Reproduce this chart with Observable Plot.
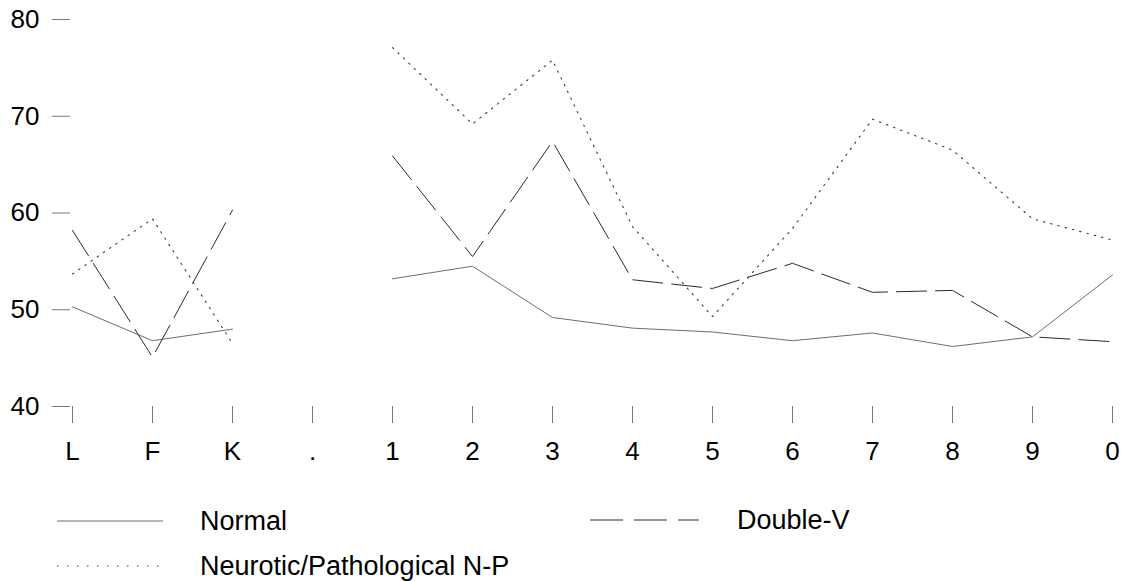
<!DOCTYPE html>
<html>
<head>
<meta charset="utf-8">
<script src="https://cdn.jsdelivr.net/npm/d3@7"></script>
<script src="https://cdn.jsdelivr.net/npm/@observablehq/plot@0.6"></script>
<style>
  body { margin: 0; background: #fff; font-family: "Liberation Sans", Arial, sans-serif; }
  #wrap { position: relative; width: 1124px; height: 581px; }
  .leg { position: absolute; font-size: 27px; color: #000; line-height: 30px; white-space: nowrap; }
  .sw { position: absolute; }
</style>
</head>
<body>
<div id="wrap"></div>
<script>
const categories = ["L", "F", "K", ".", "1", "2", "3", "4", "5", "6", "7", "8", "9", "0"];
const normal   = [50.3, 46.8, 48.0, NaN, 53.2, 54.5, 49.2, 48.1, 47.7, 46.8, 47.6, 46.2, 47.2, 53.6];
const doubleV  = [58.2, 45.1, 60.3, NaN, 65.9, 55.5, 67.4, 53.1, 52.2, 54.8, 51.8, 52.0, 47.2, 46.7];
const neurotic = [53.7, 59.4, 46.5, NaN, 77.1, 69.2, 75.8, 58.6, 49.3, 58.4, 69.7, 66.5, 59.4, 57.2];
const yTicks = [40, 50, 60, 70, 80];
const seriesNames = ["Normal", "Double-V", "Neurotic/Pathological N-P"];

const toRows = (vals) => categories.map((c, i) => ({cat: c, v: vals[i]}));

const styles = {
  "Normal": {stroke: "#6e6e6e", dash: null, legendDash: null},
  "Double-V": {stroke: "#2a2a2a", dash: "30,9", legendDash: "33,11"},
  "Neurotic/Pathological N-P": {stroke: "#3a3a3a", dash: "1.5,6", legendDash: "1.5,8.5"}
};

const chart = Plot.plot({
  width: 1124,
  height: 470,
  marginLeft: 70,
  marginRight: 10,
  marginTop: 19,
  marginBottom: 64,
  style: {fontFamily: "'Liberation Sans', Arial, sans-serif", fontSize: "26px", color: "#000", background: "#fff"},
  x: {type: "point", domain: categories, padding: 0, label: null},
  y: {domain: [40, 80], label: null},
  marks: [
    Plot.axisY(yTicks, {tickSize: 18, tickPadding: 13, stroke: "#777", fontSize: 26, fill: "#000", label: null}),
    Plot.axisX({tickSize: 17, tickPadding: 18, stroke: "#777", fontSize: 26, fill: "#000", label: null}),
    Plot.line(toRows(normal), {x: "cat", y: "v", stroke: styles["Normal"].stroke, strokeWidth: 1}),
    Plot.line(toRows(doubleV), {x: "cat", y: "v", stroke: styles["Double-V"].stroke, strokeWidth: 1, strokeDasharray: styles["Double-V"].dash}),
    Plot.line(toRows(neurotic), {x: "cat", y: "v", stroke: styles["Neurotic/Pathological N-P"].stroke, strokeWidth: 1.1, strokeDasharray: styles["Neurotic/Pathological N-P"].dash})
  ]
});
const wrap = document.getElementById("wrap");
chart.style.position = "absolute";
chart.style.left = "0px";
chart.style.top = "0px";
wrap.appendChild(chart);

// legend
const legendPos = [
  {x: 57, w: 106, y: 521, tx: 200},
  {x: 590, w: 109, y: 520, tx: 737},
  {x: 57, w: 106, y: 566, tx: 200}
];
seriesNames.forEach((name, i) => {
  const p = legendPos[i];
  const st = styles[name];
  const svgNS = "http://www.w3.org/2000/svg";
  const s = document.createElementNS(svgNS, "svg");
  s.setAttribute("width", p.w);
  s.setAttribute("height", 6);
  s.setAttribute("class", "sw");
  s.style.left = p.x + "px";
  s.style.top = (p.y - 3) + "px";
  const ln = document.createElementNS(svgNS, "line");
  ln.setAttribute("x1", 0); ln.setAttribute("x2", p.w);
  ln.setAttribute("y1", 3); ln.setAttribute("y2", 3);
  ln.setAttribute("stroke", st.stroke);
  ln.setAttribute("stroke-width", 1.2);
  if (st.legendDash) ln.setAttribute("stroke-dasharray", st.legendDash);
  s.appendChild(ln);
  wrap.appendChild(s);
  const t = document.createElement("div");
  t.className = "leg";
  t.textContent = name;
  t.style.left = p.tx + "px";
  t.style.top = (p.y - 15) + "px";
  wrap.appendChild(t);
});
</script>
</body>
</html>
